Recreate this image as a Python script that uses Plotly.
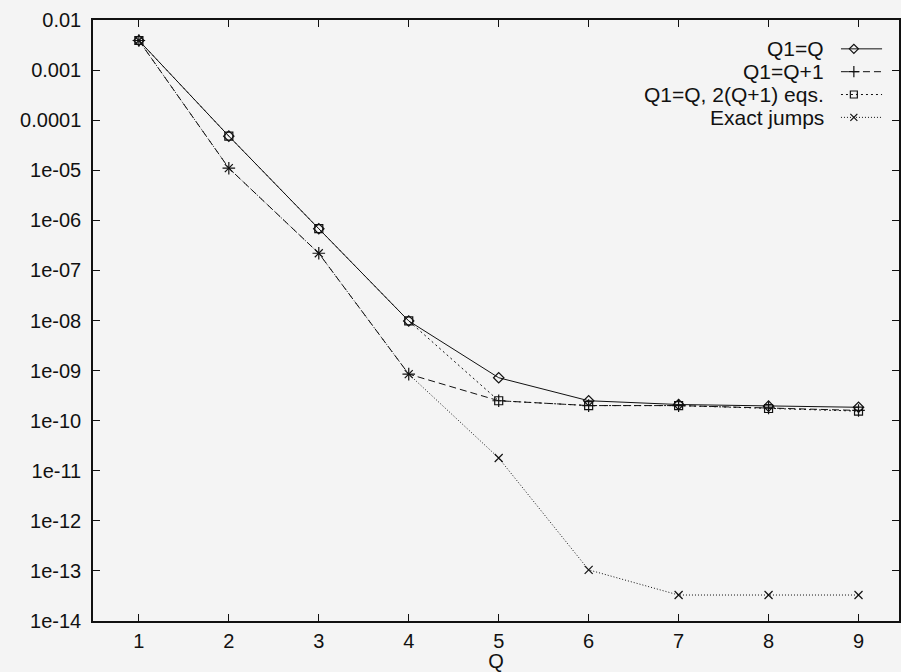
import plotly.graph_objects as go

# Error versus number of jump terms Q
Q = [1, 2, 3, 4, 5, 6, 7, 8, 9]

err_q1_eq_q = [3.9e-3, 4.8e-5, 6.8e-7, 9.8e-9, 7.2e-10, 2.5e-10, 2.1e-10, 1.95e-10, 1.85e-10]
err_q1_eq_q_plus1 = [3.9e-3, 1.1e-5, 2.2e-7, 8.5e-10, 2.5e-10, 2.0e-10, 2.0e-10, 1.8e-10, 1.6e-10]
err_q1_eq_q_2eqs = [3.9e-3, 4.8e-5, 6.8e-7, 9.8e-9, 2.5e-10, 2.0e-10, 2.0e-10, 1.75e-10, 1.55e-10]
err_exact_jumps = [3.9e-3, 1.1e-5, 2.2e-7, 8.5e-10, 1.8e-11, 1.05e-13, 3.3e-14, 3.3e-14, 3.3e-14]

series_names = ["Q1=Q", "Q1=Q+1", "Q1=Q, 2(Q+1) eqs.", "Exact jumps"]

y_tick_exps = list(range(-2, -15, -1))
y_tick_text = ["0.01", "0.001", "0.0001", "1e-05", "1e-06", "1e-07", "1e-08",
               "1e-09", "1e-10", "1e-11", "1e-12", "1e-13", "1e-14"]

INK = "#111111"
BG = "#f4f4f4"
FONT = "Liberation Sans, Arial, Helvetica, sans-serif"
FS = 20

styles = [
    dict(dash="solid", symbol="diamond-open", size=8),
    dict(dash="7px,4px", symbol="cross-thin-open", size=9),
    dict(dash="2px,3px", symbol="square-open", size=8),
    dict(dash="1px,2px", symbol="x-thin-open", size=8),
]
all_series = [err_q1_eq_q, err_q1_eq_q_plus1, err_q1_eq_q_2eqs, err_exact_jumps]

fig = go.Figure()

for name, vals, st in zip(series_names, all_series, styles):
    fig.add_trace(go.Scatter(
        x=Q, y=vals, name=name, mode="lines+markers",
        line=dict(color=INK, width=1, dash=st["dash"]),
        marker=dict(symbol=st["symbol"], size=st["size"], color=INK,
                    line=dict(color=INK, width=1.2)),
        showlegend=False, xaxis="x", yaxis="y",
    ))

# Key drawn gnuplot-style: right-aligned label with a line sample to its right
key_rows = [0.952, 0.914, 0.876, 0.838]
for name, st, ky in zip(series_names, styles, key_rows):
    fig.add_trace(go.Scatter(
        x=[0.928, 0.979], y=[ky, ky], mode="lines",
        line=dict(color=INK, width=1, dash=st["dash"]),
        showlegend=False, hoverinfo="skip", xaxis="x2", yaxis="y2",
    ))
    fig.add_trace(go.Scatter(
        x=[0.944], y=[ky], mode="markers",
        marker=dict(symbol=st["symbol"], size=st["size"] - 1, color=INK,
                    line=dict(color=INK, width=1.2)),
        showlegend=False, hoverinfo="skip", xaxis="x2", yaxis="y2",
    ))
    fig.add_annotation(
        x=0.910, y=ky, xref="paper", yref="paper", text=name,
        showarrow=False, xanchor="right", yanchor="middle",
        font=dict(family=FONT, size=21, color=INK),
    )

fig.update_layout(
    width=901, height=672,
    margin=dict(l=93, r=0, t=20, b=51),
    paper_bgcolor=BG, plot_bgcolor=BG,
    font=dict(family=FONT, size=FS, color=INK),
    showlegend=False,
    xaxis=dict(
        range=[0.49, 9.45], tickvals=Q, ticktext=[str(q) for q in Q],
        ticks="inside", ticklen=7, tickwidth=1, tickcolor=INK,
        showline=True, linecolor=INK, linewidth=1.5, mirror="ticks",
        showgrid=False, zeroline=False, ticklabelstandoff=1,
        title=dict(text="Q", standoff=4, font=dict(size=FS)),
    ),
    yaxis=dict(
        type="log", range=[-14, -2],
        tickvals=[10.0 ** e for e in y_tick_exps], ticktext=y_tick_text,
        ticks="inside", ticklen=7, tickwidth=1, tickcolor=INK,
        showline=True, linecolor=INK, linewidth=1.5, mirror="ticks",
        showgrid=False, zeroline=False, ticklabelstandoff=6,
    ),
    xaxis2=dict(range=[0, 1], overlaying="x", anchor="y2", visible=False,
                fixedrange=True),
    yaxis2=dict(range=[0, 1], overlaying="y", anchor="x2", visible=False,
                fixedrange=True),
)

fig.write_html("out.html")
